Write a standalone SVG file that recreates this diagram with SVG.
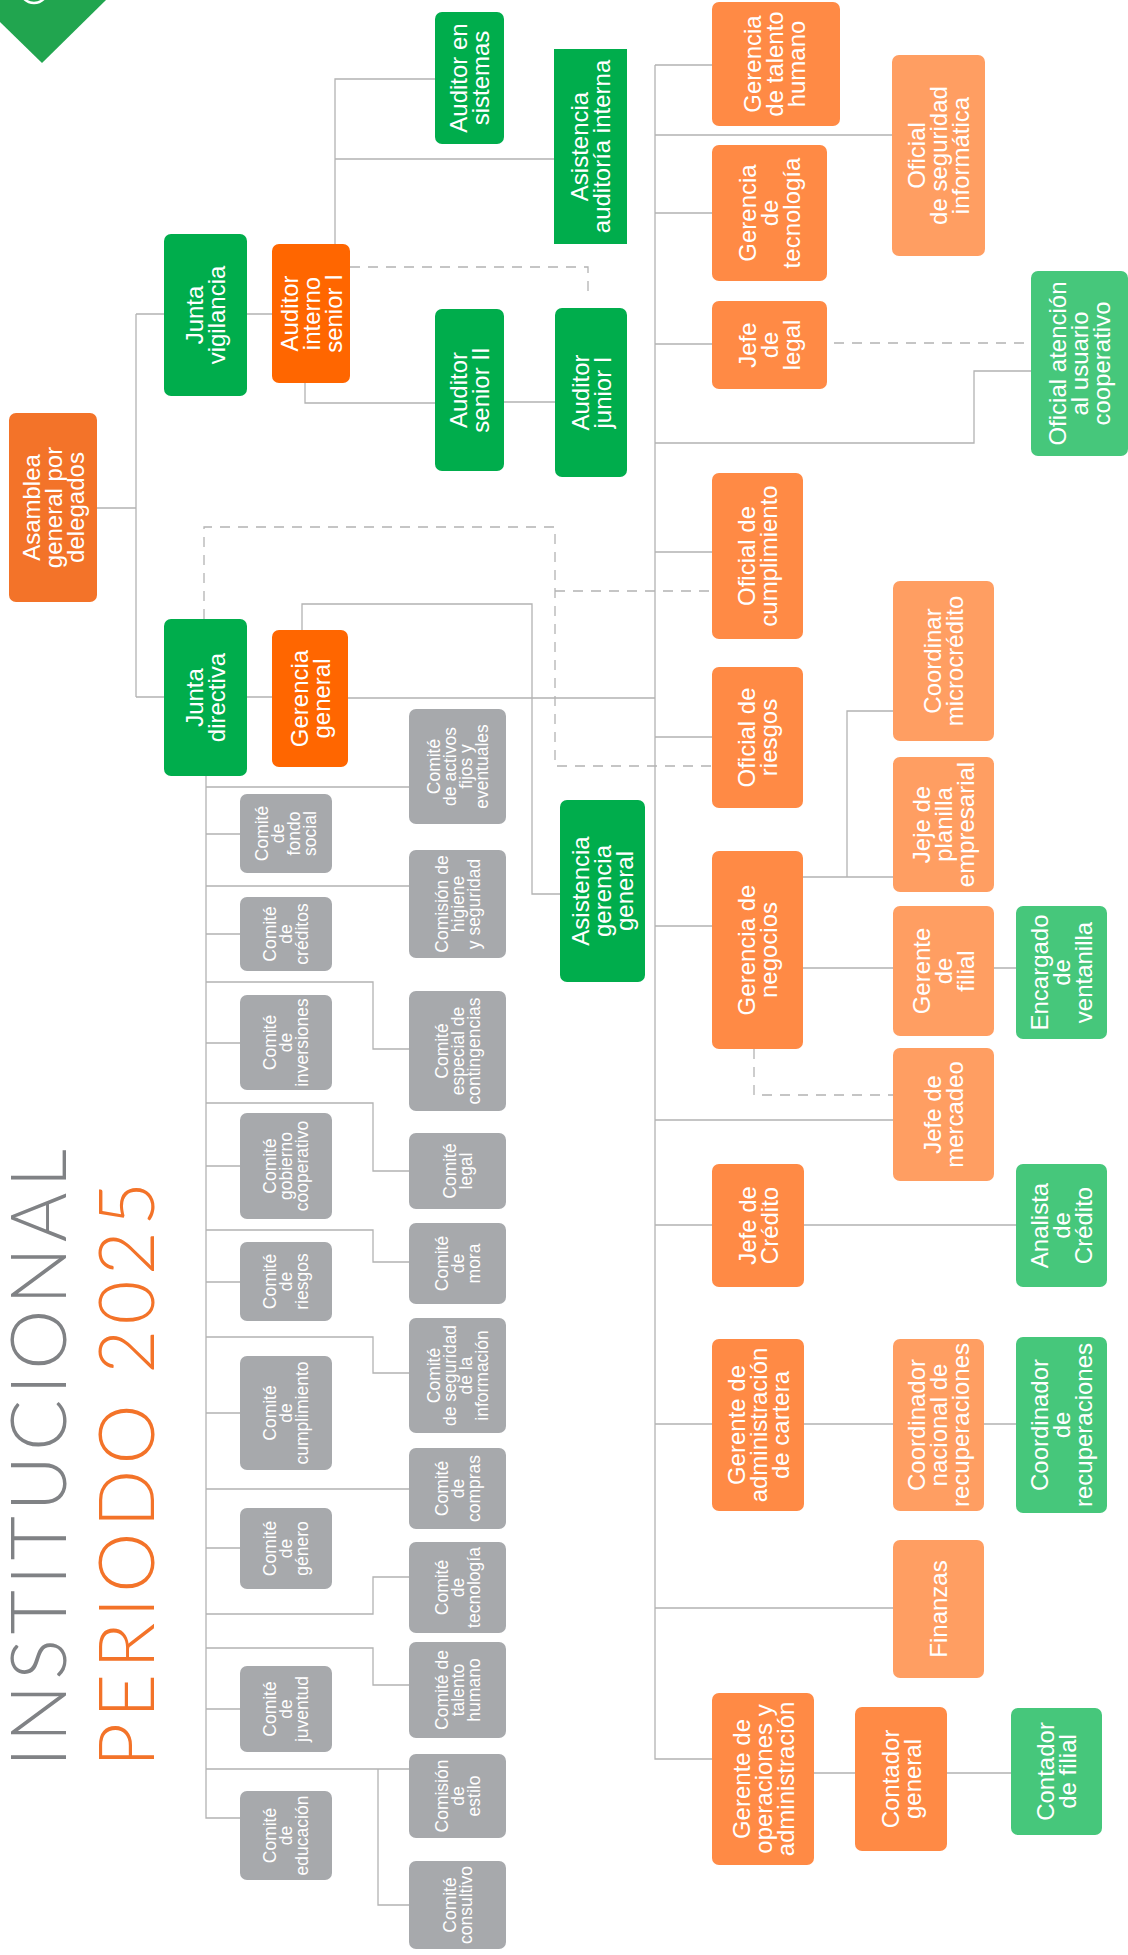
<svg xmlns="http://www.w3.org/2000/svg" width="1128" height="1955" viewBox="0 0 1128 1955">
<style>
.t{font-family:"Liberation Sans",Arial,sans-serif;font-size:24px;fill:#fff;text-anchor:middle}
.s{font-size:17.5px}
.c{fill:none;stroke:#b3b3b3;stroke-width:1.3}
.d{stroke-dasharray:10 8}
.g{fill:#00ad4c}.lg{fill:#46c77b}.v{fill:#ff6600}.m{fill:#ff8a45}.l{fill:#ff9e62}.a{fill:#f37329}.k{fill:#a7a9ac}
.ti{font-family:Lato,"Liberation Sans",sans-serif;font-weight:300;font-size:76px}
</style>
<rect width="1128" height="1955" fill="#fff"/>
<g id="logo"><polygon points="0,0 106,0 42,63 0,22" fill="#21a54f"/><circle cx="34" cy="-11" r="14" fill="none" stroke="#fff" stroke-width="2.5"/></g>
<g id="title">
<text class="ti" fill="#808285" transform="translate(66,1767) rotate(-90)" textLength="618">INSTITUCIONAL</text>
<text class="ti" fill="#f37329" transform="translate(154,1767) rotate(-90)" textLength="585">PERIODO 2025</text>
</g>
<g id="connectors">
<path class="c" d="M97,508H136M136,314V697M136,314H164M136,697H164M247,314H272M335,244V79H435M335,159H554M305,383V403H435M504,402H555M247,697H272M302,630V604H532V894H560M348,698H655"/>
<path class="c" d="M655,65V1759H712M655,65H712M655,135H892M655,213H712M655,344H712M655,443H974V371H1031M655,552H712M655,737H712M655,926H712M655,1120H893M655,1225H712M804,1225H1016M655,1424H712M804,1424H893M984,1424H1016M655,1608H893M803,877H893M847,877V711H893M803,968H893M994,968H1016M814,1773H855M947,1773H1011"/>
<path class="c" d="M206,776V1818H240M206,834H240M206,934H240M206,1043H240M206,1166H240M206,1282H240M206,1413H240M206,1548H240M206,1709H240M206,787H409M206,886H409M206,982H373V1049H409M206,1103H373V1171H409M206,1230H373V1262H409M206,1337H373V1373H409M206,1489H409M206,1614H373V1577H409M206,1648H373V1685H409M206,1769H409M378,1769V1905H409"/>
<path class="c d" d="M350,267H588V298M204,619V527H555V766H712M555,591H712M816,343H1031M754,1049V1095H893"/>
</g>
<g id="asamblea"><rect class="a" x="9" y="413" width="88" height="189" rx="7"/><text class="t" transform="translate(53,507.5) rotate(-90)"><tspan x="0" y="-13.4">Asamblea</tspan><tspan x="0" y="8.6">general por</tspan><tspan x="0" y="30.6">delegados</tspan></text></g>
<g id="junta-vigilancia"><rect class="g" x="164" y="234" width="83" height="162" rx="7"/><text class="t" transform="translate(205.5,315) rotate(-90)"><tspan x="0" y="-2.4">Junta</tspan><tspan x="0" y="19.6">vigilancia</tspan></text></g>
<g id="auditor-interno"><rect class="v" x="272" y="244" width="78" height="139" rx="7"/><text class="t" transform="translate(311,313.5) rotate(-90)"><tspan x="0" y="-13.4">Auditor</tspan><tspan x="0" y="8.6">interno</tspan><tspan x="0" y="30.6">senior I</tspan></text></g>
<g id="auditor-sistemas"><rect class="g" x="435" y="12" width="69" height="132" rx="7"/><text class="t" transform="translate(469.5,78) rotate(-90)"><tspan x="0" y="-2.4">Auditor en</tspan><tspan x="0" y="19.6">sistemas</tspan></text></g>
<g id="asistencia-auditoria"><rect class="g" x="554" y="49" width="73" height="195"/><text class="t" transform="translate(590.5,146.5) rotate(-90)"><tspan x="0" y="-2.4">Asistencia</tspan><tspan x="0" y="19.6">auditoría interna</tspan></text></g>
<g id="auditor-senior-ii"><rect class="g" x="435" y="309" width="69" height="162" rx="7"/><text class="t" transform="translate(469.5,390) rotate(-90)"><tspan x="0" y="-2.4">Auditor</tspan><tspan x="0" y="19.6">senior II</tspan></text></g>
<g id="auditor-junior-i"><rect class="g" x="555" y="308" width="72" height="169" rx="7"/><text class="t" transform="translate(591,392.5) rotate(-90)"><tspan x="0" y="-2.4">Auditor</tspan><tspan x="0" y="19.6">junior I</tspan></text></g>
<g id="junta-directiva"><rect class="g" x="164" y="619" width="83" height="157" rx="7"/><text class="t" transform="translate(205.5,697.5) rotate(-90)"><tspan x="0" y="-2.4">Junta</tspan><tspan x="0" y="19.6">directiva</tspan></text></g>
<g id="gerencia-general"><rect class="v" x="272" y="630" width="76" height="137" rx="7"/><text class="t" transform="translate(310,698.5) rotate(-90)"><tspan x="0" y="-2.4">Gerencia</tspan><tspan x="0" y="19.6">general</tspan></text></g>
<g id="asistencia-gerencia"><rect class="g" x="560" y="800" width="85" height="182" rx="7"/><text class="t" transform="translate(602.5,891) rotate(-90)"><tspan x="0" y="-13.4">Asistencia</tspan><tspan x="0" y="8.6">gerencia</tspan><tspan x="0" y="30.6">general</tspan></text></g>
<g id="gerencia-talento"><rect class="m" x="712" y="2" width="128" height="124" rx="7"/><text class="t" transform="translate(774,64) rotate(-90)"><tspan x="0" y="-13.4">Gerencia</tspan><tspan x="0" y="8.6">de talento</tspan><tspan x="0" y="30.6">humano</tspan></text></g>
<g id="gerencia-tecnologia"><rect class="m" x="712" y="145" width="115" height="136" rx="7"/><text class="t" transform="translate(769.5,213) rotate(-90)"><tspan x="0" y="-13.4">Gerencia</tspan><tspan x="0" y="8.6">de</tspan><tspan x="0" y="30.6">tecnología</tspan></text></g>
<g id="jefe-legal"><rect class="m" x="712" y="301" width="115" height="88" rx="7"/><text class="t" transform="translate(769.5,345) rotate(-90)"><tspan x="0" y="-13.4">Jefe</tspan><tspan x="0" y="8.6">de</tspan><tspan x="0" y="30.6">legal</tspan></text></g>
<g id="oficial-seguridad"><rect class="l" x="892" y="55" width="93" height="201" rx="7"/><text class="t" transform="translate(938.5,155.5) rotate(-90)"><tspan x="0" y="-13.4">Oficial</tspan><tspan x="0" y="8.6">de seguridad</tspan><tspan x="0" y="30.6">informática</tspan></text></g>
<g id="oficial-atencion"><rect class="lg" x="1031" y="271" width="97" height="185" rx="7"/><text class="t" transform="translate(1079.5,363.5) rotate(-90)"><tspan x="0" y="-13.4">Oficial atención</tspan><tspan x="0" y="8.6">al usuario</tspan><tspan x="0" y="30.6">cooperativo</tspan></text></g>
<g id="oficial-cumplimiento"><rect class="m" x="712" y="473" width="91" height="166" rx="7"/><text class="t" transform="translate(757.5,556) rotate(-90)"><tspan x="0" y="-2.4">Oficial de</tspan><tspan x="0" y="19.6">cumplimiento</tspan></text></g>
<g id="oficial-riesgos"><rect class="m" x="712" y="667" width="91" height="141" rx="7"/><text class="t" transform="translate(757.5,737.5) rotate(-90)"><tspan x="0" y="-2.4">Oficial de</tspan><tspan x="0" y="19.6">riesgos</tspan></text></g>
<g id="gerencia-negocios"><rect class="m" x="712" y="851" width="91" height="198" rx="7"/><text class="t" transform="translate(757.5,950) rotate(-90)"><tspan x="0" y="-2.4">Gerencia de</tspan><tspan x="0" y="19.6">negocios</tspan></text></g>
<g id="coordinar-microcredito"><rect class="l" x="893" y="581" width="101" height="160" rx="7"/><text class="t" transform="translate(943.5,661) rotate(-90)"><tspan x="0" y="-2.4">Coordinar</tspan><tspan x="0" y="19.6">microcrédito</tspan></text></g>
<g id="jeje-planilla"><rect class="l" x="893" y="757" width="101" height="135" rx="7"/><text class="t" transform="translate(943.5,824.5) rotate(-90)"><tspan x="0" y="-13.4">Jeje de</tspan><tspan x="0" y="8.6">planilla</tspan><tspan x="0" y="30.6">empresarial</tspan></text></g>
<g id="gerente-filial"><rect class="l" x="893" y="906" width="101" height="130" rx="7"/><text class="t" transform="translate(943.5,971) rotate(-90)"><tspan x="0" y="-13.4">Gerente</tspan><tspan x="0" y="8.6">de</tspan><tspan x="0" y="30.6">filial</tspan></text></g>
<g id="encargado-ventanilla"><rect class="lg" x="1016" y="906" width="91" height="133" rx="7"/><text class="t" transform="translate(1061.5,972.5) rotate(-90)"><tspan x="0" y="-13.4">Encargado</tspan><tspan x="0" y="8.6">de</tspan><tspan x="0" y="30.6">ventanilla</tspan></text></g>
<g id="jefe-mercadeo"><rect class="l" x="893" y="1048" width="101" height="133" rx="7"/><text class="t" transform="translate(943.5,1114.5) rotate(-90)"><tspan x="0" y="-2.4">Jefe de</tspan><tspan x="0" y="19.6">mercadeo</tspan></text></g>
<g id="jefe-credito"><rect class="m" x="712" y="1164" width="92" height="123" rx="7"/><text class="t" transform="translate(758,1225.5) rotate(-90)"><tspan x="0" y="-2.4">Jefe de</tspan><tspan x="0" y="19.6">Crédito</tspan></text></g>
<g id="analista-credito"><rect class="lg" x="1016" y="1164" width="91" height="123" rx="7"/><text class="t" transform="translate(1061.5,1225.5) rotate(-90)"><tspan x="0" y="-13.4">Analista</tspan><tspan x="0" y="8.6">de</tspan><tspan x="0" y="30.6">Crédito</tspan></text></g>
<g id="gerente-cartera"><rect class="m" x="712" y="1339" width="92" height="172" rx="7"/><text class="t" transform="translate(758,1425) rotate(-90)"><tspan x="0" y="-13.4">Gerente de</tspan><tspan x="0" y="8.6">administración</tspan><tspan x="0" y="30.6">de cartera</tspan></text></g>
<g id="coordinador-nacional"><rect class="l" x="893" y="1339" width="91" height="172" rx="7"/><text class="t" transform="translate(938.5,1425) rotate(-90)"><tspan x="0" y="-13.4">Coordinador</tspan><tspan x="0" y="8.6">nacional de</tspan><tspan x="0" y="30.6">recuperaciones</tspan></text></g>
<g id="coordinador-recuperaciones"><rect class="lg" x="1016" y="1337" width="91" height="176" rx="7"/><text class="t" transform="translate(1061.5,1425) rotate(-90)"><tspan x="0" y="-13.4">Coordinador</tspan><tspan x="0" y="8.6">de</tspan><tspan x="0" y="30.6">recuperaciones</tspan></text></g>
<g id="finanzas"><rect class="l" x="893" y="1540" width="91" height="138" rx="7"/><text class="t" transform="translate(938.5,1609) rotate(-90)"><tspan x="0" y="8.6">Finanzas</tspan></text></g>
<g id="gerente-operaciones"><rect class="m" x="712" y="1693" width="102" height="172" rx="7"/><text class="t" transform="translate(763,1779) rotate(-90)"><tspan x="0" y="-13.4">Gerente de</tspan><tspan x="0" y="8.6">operaciones y</tspan><tspan x="0" y="30.6">administración</tspan></text></g>
<g id="contador-general"><rect class="m" x="855" y="1707" width="92" height="144" rx="7"/><text class="t" transform="translate(901,1779) rotate(-90)"><tspan x="0" y="-2.4">Contador</tspan><tspan x="0" y="19.6">general</tspan></text></g>
<g id="contador-filial"><rect class="lg" x="1011" y="1708" width="91" height="127" rx="7"/><text class="t" transform="translate(1056.5,1771.5) rotate(-90)"><tspan x="0" y="-2.4">Contador</tspan><tspan x="0" y="19.6">de filial</tspan></text></g>
<g id="comite-fondo-social"><rect class="k" x="240" y="794" width="92" height="79" rx="7"/><text class="t s" transform="translate(286,833.5) rotate(-90)"><tspan x="0" y="-17.7">Comité</tspan><tspan x="0" y="-1.7">de</tspan><tspan x="0" y="14.3">fondo</tspan><tspan x="0" y="30.3">social</tspan></text></g>
<g id="comite-creditos"><rect class="k" x="240" y="897" width="92" height="74" rx="7"/><text class="t s" transform="translate(286,934) rotate(-90)"><tspan x="0" y="-9.7">Comité</tspan><tspan x="0" y="6.3">de</tspan><tspan x="0" y="22.3">créditos</tspan></text></g>
<g id="comite-inversiones"><rect class="k" x="240" y="995" width="92" height="95" rx="7"/><text class="t s" transform="translate(286,1042.5) rotate(-90)"><tspan x="0" y="-9.7">Comité</tspan><tspan x="0" y="6.3">de</tspan><tspan x="0" y="22.3">inversiones</tspan></text></g>
<g id="comite-gobierno"><rect class="k" x="240" y="1113" width="92" height="106" rx="7"/><text class="t s" transform="translate(286,1166) rotate(-90)"><tspan x="0" y="-9.7">Comité</tspan><tspan x="0" y="6.3">gobierno</tspan><tspan x="0" y="22.3">cooperativo</tspan></text></g>
<g id="comite-riesgos"><rect class="k" x="240" y="1242" width="92" height="79" rx="7"/><text class="t s" transform="translate(286,1281.5) rotate(-90)"><tspan x="0" y="-9.7">Comité</tspan><tspan x="0" y="6.3">de</tspan><tspan x="0" y="22.3">riesgos</tspan></text></g>
<g id="comite-cumplimiento"><rect class="k" x="240" y="1356" width="92" height="114" rx="7"/><text class="t s" transform="translate(286,1413) rotate(-90)"><tspan x="0" y="-9.7">Comité</tspan><tspan x="0" y="6.3">de</tspan><tspan x="0" y="22.3">cumplimiento</tspan></text></g>
<g id="comite-genero"><rect class="k" x="240" y="1508" width="92" height="81" rx="7"/><text class="t s" transform="translate(286,1548.5) rotate(-90)"><tspan x="0" y="-9.7">Comité</tspan><tspan x="0" y="6.3">de</tspan><tspan x="0" y="22.3">género</tspan></text></g>
<g id="comite-juventud"><rect class="k" x="240" y="1666" width="92" height="86" rx="7"/><text class="t s" transform="translate(286,1709) rotate(-90)"><tspan x="0" y="-9.7">Comité</tspan><tspan x="0" y="6.3">de</tspan><tspan x="0" y="22.3">juventud</tspan></text></g>
<g id="comite-educacion"><rect class="k" x="240" y="1791" width="92" height="89" rx="7"/><text class="t s" transform="translate(286,1835.5) rotate(-90)"><tspan x="0" y="-9.7">Comité</tspan><tspan x="0" y="6.3">de</tspan><tspan x="0" y="22.3">educación</tspan></text></g>
<g id="comite-activos"><rect class="k" x="409" y="709" width="97" height="115" rx="7"/><text class="t s" transform="translate(457.5,766.5) rotate(-90)"><tspan x="0" y="-17.7">Comité</tspan><tspan x="0" y="-1.7">de activos</tspan><tspan x="0" y="14.3">fijos y</tspan><tspan x="0" y="30.3">eventuales</tspan></text></g>
<g id="comision-higiene"><rect class="k" x="409" y="850" width="97" height="108" rx="7"/><text class="t s" transform="translate(457.5,904) rotate(-90)"><tspan x="0" y="-9.7">Comisión de</tspan><tspan x="0" y="6.3">higiene</tspan><tspan x="0" y="22.3">y seguridad</tspan></text></g>
<g id="comite-contingencias"><rect class="k" x="409" y="991" width="97" height="120" rx="7"/><text class="t s" transform="translate(457.5,1051) rotate(-90)"><tspan x="0" y="-9.7">Comité</tspan><tspan x="0" y="6.3">especial de</tspan><tspan x="0" y="22.3">contingencias</tspan></text></g>
<g id="comite-legal"><rect class="k" x="409" y="1133" width="97" height="76" rx="7"/><text class="t s" transform="translate(457.5,1171) rotate(-90)"><tspan x="0" y="-1.7">Comité</tspan><tspan x="0" y="14.3">legal</tspan></text></g>
<g id="comite-mora"><rect class="k" x="409" y="1223" width="97" height="81" rx="7"/><text class="t s" transform="translate(457.5,1263.5) rotate(-90)"><tspan x="0" y="-9.7">Comité</tspan><tspan x="0" y="6.3">de</tspan><tspan x="0" y="22.3">mora</tspan></text></g>
<g id="comite-seguridad-informacion"><rect class="k" x="409" y="1318" width="97" height="115" rx="7"/><text class="t s" transform="translate(457.5,1375.5) rotate(-90)"><tspan x="0" y="-17.7">Comité</tspan><tspan x="0" y="-1.7">de seguridad</tspan><tspan x="0" y="14.3">de la</tspan><tspan x="0" y="30.3">información</tspan></text></g>
<g id="comite-compras"><rect class="k" x="409" y="1448" width="97" height="81" rx="7"/><text class="t s" transform="translate(457.5,1488.5) rotate(-90)"><tspan x="0" y="-9.7">Comité</tspan><tspan x="0" y="6.3">de</tspan><tspan x="0" y="22.3">compras</tspan></text></g>
<g id="comite-tecnologia"><rect class="k" x="409" y="1542" width="97" height="91" rx="7"/><text class="t s" transform="translate(457.5,1587.5) rotate(-90)"><tspan x="0" y="-9.7">Comité</tspan><tspan x="0" y="6.3">de</tspan><tspan x="0" y="22.3">tecnología</tspan></text></g>
<g id="comite-talento"><rect class="k" x="409" y="1642" width="97" height="96" rx="7"/><text class="t s" transform="translate(457.5,1690) rotate(-90)"><tspan x="0" y="-9.7">Comité de</tspan><tspan x="0" y="6.3">talento</tspan><tspan x="0" y="22.3">humano</tspan></text></g>
<g id="comision-estilo"><rect class="k" x="409" y="1754" width="97" height="84" rx="7"/><text class="t s" transform="translate(457.5,1796) rotate(-90)"><tspan x="0" y="-9.7">Comisión</tspan><tspan x="0" y="6.3">de</tspan><tspan x="0" y="22.3">estilo</tspan></text></g>
<g id="comite-consultivo"><rect class="k" x="409" y="1861" width="97" height="88" rx="7"/><text class="t s" transform="translate(457.5,1905) rotate(-90)"><tspan x="0" y="-1.7">Comité</tspan><tspan x="0" y="14.3">consultivo</tspan></text></g>
</svg>
